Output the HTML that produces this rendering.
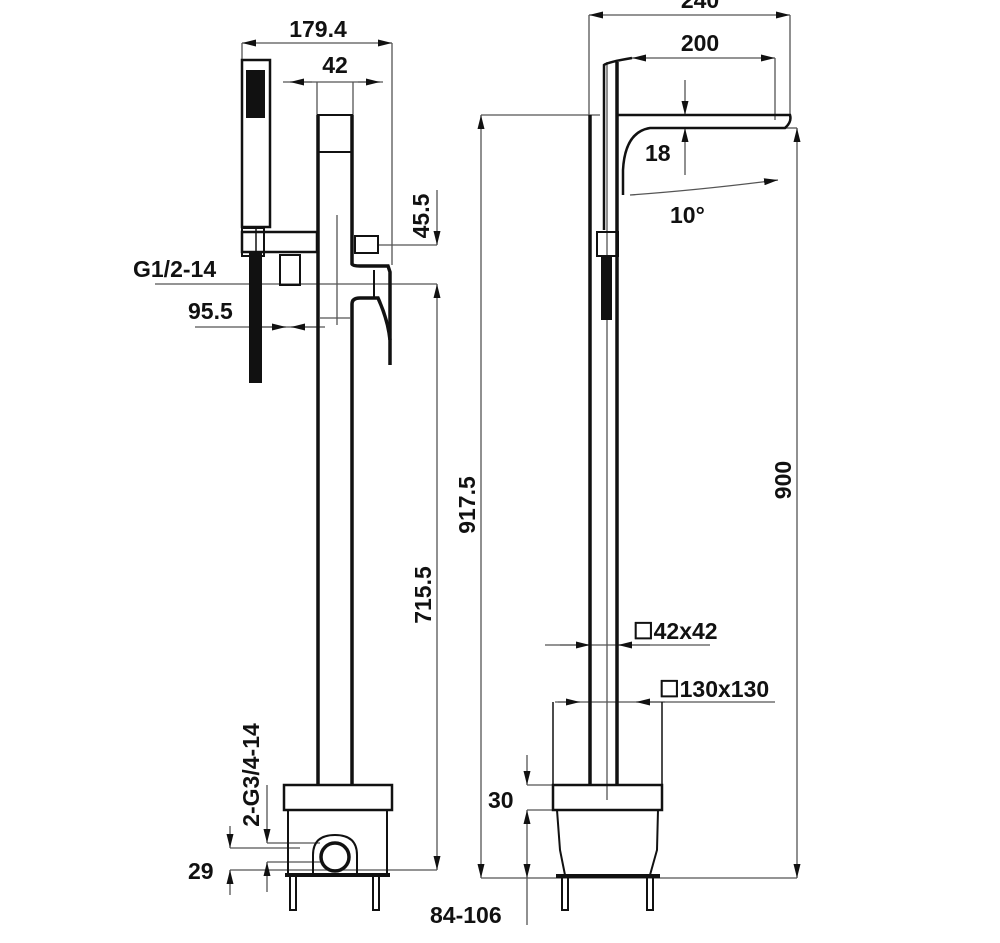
<!DOCTYPE html>
<html><head><meta charset="utf-8"><style>
html,body{margin:0;padding:0;background:#fff;}
svg{display:block;}
text{font-family:"Liberation Sans",sans-serif;font-weight:bold;fill:#111;}
</style></head><body>
<svg width="1000" height="943" viewBox="0 0 1000 943" xmlns="http://www.w3.org/2000/svg">
<defs>
<marker id="a" viewBox="0 0 14 7" refX="14" refY="3.5" markerWidth="14" markerHeight="7" orient="auto-start-reverse" markerUnits="userSpaceOnUse"><path d="M0,0 L14,3.5 L0,7 Z" fill="#111"/></marker>
</defs>
<g stroke="#555" stroke-width="1.3" fill="none">
<line x1="242" y1="43" x2="392" y2="43" marker-start="url(#a)" marker-end="url(#a)"/>
<line x1="242" y1="43" x2="242" y2="60"/>
<line x1="392" y1="43" x2="392" y2="265"/>
<line x1="283" y1="82" x2="383" y2="82"/>
<line x1="290" y1="82" x2="312" y2="82" marker-start="url(#a)"/>
<line x1="358" y1="82" x2="380" y2="82" marker-end="url(#a)"/>
<line x1="317" y1="82" x2="317" y2="115"/>
<line x1="353" y1="82" x2="353" y2="115"/>
<line x1="378" y1="245" x2="437" y2="245"/>
<line x1="155" y1="284" x2="437" y2="284"/>
<line x1="437" y1="190" x2="437" y2="245" marker-end="url(#a)"/>
<line x1="437" y1="284" x2="437" y2="870" marker-start="url(#a)" marker-end="url(#a)"/>
<line x1="195" y1="327" x2="325" y2="327"/>
<line x1="262" y1="327" x2="286" y2="327" marker-end="url(#a)" />
<line x1="318" y1="327" x2="291" y2="327" marker-end="url(#a)"/>
<line x1="337" y1="215" x2="337" y2="325"/>
<line x1="320" y1="318" x2="350" y2="318"/>
<line x1="230" y1="870" x2="437" y2="870"/>
<line x1="230" y1="848" x2="300" y2="848"/>
<line x1="267" y1="843" x2="320" y2="843"/>
<line x1="267" y1="862" x2="320" y2="862"/>
<line x1="230" y1="826" x2="230" y2="848" marker-end="url(#a)"/>
<line x1="230" y1="895" x2="230" y2="870" marker-end="url(#a)"/>
<line x1="267" y1="785" x2="267" y2="843" marker-end="url(#a)"/>
<line x1="267" y1="892" x2="267" y2="862" marker-end="url(#a)"/>
<line x1="481" y1="115" x2="600" y2="115"/>
<line x1="481" y1="115" x2="481" y2="878" marker-start="url(#a)" marker-end="url(#a)"/>
<line x1="481" y1="878" x2="797" y2="878"/>
<line x1="589" y1="15" x2="790" y2="15" marker-start="url(#a)" marker-end="url(#a)"/>
<line x1="589" y1="15" x2="589" y2="115"/>
<line x1="790" y1="15" x2="790" y2="118"/>
<line x1="632" y1="58" x2="775" y2="58" marker-start="url(#a)" marker-end="url(#a)"/>
<line x1="775" y1="58" x2="775" y2="120"/>
<line x1="685" y1="80" x2="685" y2="115" marker-end="url(#a)"/>
<line x1="685" y1="175" x2="685" y2="128" marker-end="url(#a)"/>
<line x1="785" y1="128" x2="797" y2="128"/>
<line x1="797" y1="128" x2="797" y2="878" marker-start="url(#a)" marker-end="url(#a)"/>
<path d="M630,195 Q700,190 778,180" marker-end="url(#a)"/>
<line x1="545" y1="645" x2="710" y2="645"/>
<line x1="560" y1="645" x2="590" y2="645" marker-end="url(#a)"/>
<line x1="650" y1="645" x2="618" y2="645" marker-end="url(#a)"/>
<line x1="555" y1="702" x2="775" y2="702"/>
<line x1="558" y1="702" x2="580" y2="702" marker-end="url(#a)"/>
<line x1="665" y1="702" x2="636" y2="702" marker-end="url(#a)"/>
<line x1="527" y1="755" x2="527" y2="785" marker-end="url(#a)"/>
<line x1="527" y1="835" x2="527" y2="810" marker-end="url(#a)"/>
<line x1="527" y1="835" x2="527" y2="878" marker-end="url(#a)"/>
<line x1="527" y1="878" x2="527" y2="925"/>
<line x1="527" y1="785" x2="555" y2="785"/>
<line x1="527" y1="810" x2="555" y2="810"/>
<line x1="607" y1="62" x2="607" y2="800"/>
</g>
<g stroke="#111" stroke-width="3.5" fill="none">
<rect x="242" y="60" width="28" height="167" stroke-width="2.5"/>
<rect x="242" y="232" width="75" height="20" stroke-width="2.5"/>
<rect x="242" y="228" width="22" height="28" stroke-width="2"/>
<line x1="256" y1="228" x2="256" y2="256" stroke-width="1.5"/>
<rect x="280" y="255" width="20" height="30" stroke-width="2"/>
<line x1="318" y1="115" x2="318" y2="785"/>
<line x1="352" y1="115" x2="352" y2="262"/>
<path d="M352,262 L352,264 Q353,266 360,266 L388,266 L390,272 L390,365"/>
<path d="M352,785 L352,304 Q352,298 360,298 L378,298 Q388,320 390,340"/>
<line x1="374" y1="270" x2="374" y2="298" stroke-width="2"/>
<rect x="355" y="236" width="23" height="17" stroke-width="2"/>
<rect x="318" y="115" width="34" height="37" stroke-width="2"/>
<rect x="284" y="785" width="108" height="25" stroke-width="2.5"/>
<path d="M288,810 L288,874 M387,810 L387,874" stroke-width="2"/>
<line x1="285" y1="875" x2="390" y2="875" stroke-width="4"/>
<circle cx="335" cy="857" r="14" stroke-width="3.5"/>
<path d="M313,875 L313,855 Q313,835 335,835 Q357,835 357,855 L357,875" stroke-width="2"/>
<rect x="290" y="875" width="6" height="35" stroke-width="2"/>
<rect x="373" y="875" width="6" height="35" stroke-width="2"/>
<line x1="590" y1="115" x2="590" y2="785"/>
<line x1="617" y1="62" x2="617" y2="785"/>
<path d="M604,230 L604,65 Q608,62 632,58" stroke-width="2.5"/>
<path d="M617,115 L790,115 Q792,122 785,128 L650,128 Q625,132 623,170 L623,195" stroke-width="2.5"/>
<rect x="597" y="232" width="21" height="24" stroke-width="2"/>
<rect x="553" y="785" width="109" height="25" stroke-width="2.5"/>
<path d="M553,785 L553,702 M662,785 L662,702" stroke-width="1.5"/>
<path d="M557,810 L560,850 L565,875 M658,810 L657,850 L650,875" stroke-width="2"/>
<line x1="556" y1="876" x2="660" y2="876" stroke-width="4"/>
<rect x="562" y="876" width="6" height="34" stroke-width="2"/>
<rect x="647" y="876" width="6" height="34" stroke-width="2"/>
</g>
<g fill="#111">
<rect x="246" y="70" width="19" height="48"/>
<rect x="249" y="252" width="13" height="131"/>
<rect x="601" y="256" width="11" height="64"/>
</g>
<g font-size="23">
<text x="318" y="37" text-anchor="middle">179.4</text>
<text x="335" y="73" text-anchor="middle">42</text>
<text x="133" y="277">G1/2-14</text>
<text x="188" y="319">95.5</text>
<text x="188" y="879">29</text>
<text x="430" y="923">84-106</text>
<text x="700" y="8" text-anchor="middle">240</text>
<text x="700" y="51" text-anchor="middle">200</text>
<text x="645" y="161">18</text>
<text x="670" y="223">10°</text>
<text x="488" y="808">30</text>
<text x="633" y="639">☐42x42</text>
<text x="659" y="697">☐130x130</text>
<text transform="translate(429,216) rotate(-90)" text-anchor="middle">45.5</text>
<text transform="translate(431,595) rotate(-90)" text-anchor="middle">715.5</text>
<text transform="translate(475,505) rotate(-90)" text-anchor="middle">917.5</text>
<text transform="translate(791,480) rotate(-90)" text-anchor="middle">900</text>
<text transform="translate(259,775) rotate(-90)" text-anchor="middle">2-G3/4-14</text>
</g>
</svg>
</body></html>
